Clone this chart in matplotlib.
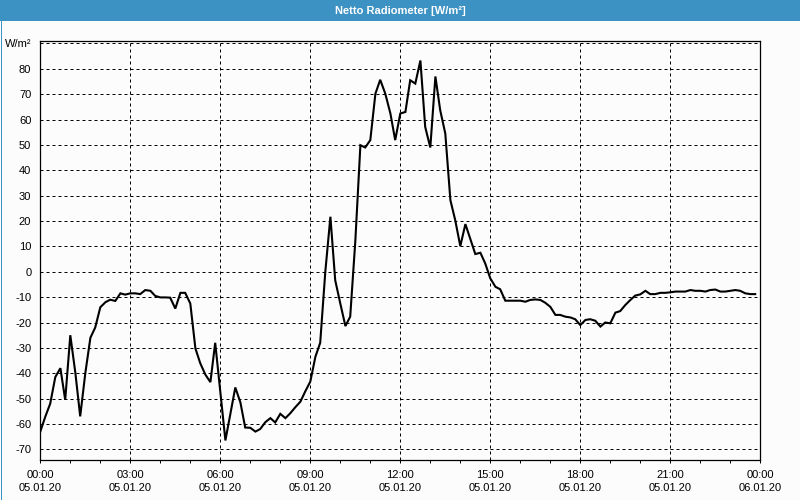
import matplotlib
matplotlib.use("Agg")
import matplotlib.pyplot as plt
from matplotlib.patches import Rectangle
from matplotlib.ticker import FixedLocator, MultipleLocator

# ---- data (time in hours since 05.01.20 00:00, value in W/m²) ----
hours = [0.00, 0.17, 0.33, 0.50, 0.67, 0.83, 1.00, 1.17, 1.33, 1.50, 1.67, 1.83,
         2.00, 2.17, 2.33, 2.50, 2.67, 2.83, 3.00, 3.17, 3.33, 3.50, 3.67, 3.83,
         4.00, 4.17, 4.33, 4.50, 4.67, 4.83, 5.00, 5.17, 5.33, 5.50, 5.67, 5.83,
         6.17, 6.50, 6.67, 6.83, 7.00, 7.17, 7.33, 7.50, 7.67, 7.83,
         8.00, 8.17, 8.33, 8.50, 8.67, 8.83, 9.00, 9.17, 9.33, 9.50, 9.67, 9.83,
         10.00, 10.17, 10.33, 10.50, 10.67, 10.83, 11.00, 11.17, 11.33, 11.50, 11.67, 11.83,
         12.00, 12.17, 12.33, 12.50, 12.67, 12.83, 13.00, 13.17, 13.33, 13.50, 13.67, 13.83,
         14.00, 14.17, 14.33, 14.50, 14.67, 14.83, 15.00, 15.17, 15.33, 15.50, 15.67, 15.83,
         16.00, 16.17, 16.33, 16.50, 16.67, 16.83, 17.00, 17.17, 17.33, 17.50, 17.67, 17.83,
         18.00, 18.17, 18.33, 18.50, 18.67, 18.83, 19.00, 19.17, 19.33, 19.50, 19.67, 19.83,
         20.00, 20.17, 20.33, 20.50, 20.67, 20.83, 21.00, 21.17, 21.33, 21.50, 21.67, 21.83,
         22.00, 22.17, 22.33, 22.50, 22.67, 22.83, 23.00, 23.17, 23.33, 23.50, 23.67, 23.83]
values = [-63, -57, -52, -41.5, -38, -50.5, -25, -40, -57, -40, -26, -22,
          -14, -12, -11, -11.5, -8.5, -9, -8.5, -8.5, -8.8, -7.2, -7.5, -9.5,
          -10.1, -10.1, -10.2, -14.5, -8.3, -8.3, -12.5, -30.2, -36, -40.5, -43.5, -28,
          -66.5, -45.6, -51.5, -61.4, -61.5, -63, -62, -59.3, -57.7, -59.4,
          -56, -57.7, -55.8, -53.4, -51.2, -47.2, -43.3, -33.5, -28, 0, 21.7, -3.3,
          -12.5, -21.4, -17.7, 12, 49.9, 49, 51.9, 70.2, 75.7, 70.2, 62.4, 51.9,
          62.4, 63, 75.5, 74.2, 83.3, 57.1, 49, 77, 63.7, 54.5, 28.2, 20.4,
          10.1, 18.8, 13.1, 7, 7.5, 3.3, -2.6, -5.9, -6.9, -11.4, -11.4, -11.4,
          -11.4, -11.8, -11.1, -10.9, -11.1, -12.2, -13.8, -17, -17, -17.7, -18, -18.7,
          -21, -19, -18.7, -19.3, -21.6, -20, -20.3, -16.1, -15.5, -13.1, -11.1, -9.4,
          -8.9, -7.5, -8.8, -8.8, -8.3, -8.3, -8.1, -7.8, -7.8, -7.8, -7.2, -7.5,
          -7.5, -7.8, -7.2, -7.0, -7.8, -7.8, -7.5, -7.2, -7.5, -8.5, -8.8, -8.8]

x_tick_hours = [0, 3, 6, 9, 12, 15, 18, 21, 24]
x_tick_labels = ["00:00\n05.01.20", "03:00\n05.01.20", "06:00\n05.01.20",
                 "09:00\n05.01.20", "12:00\n05.01.20", "15:00\n05.01.20",
                 "18:00\n05.01.20", "21:00\n05.01.20", "00:00\n06.01.20"]
y_ticks = [-70, -60, -50, -40, -30, -20, -10, 0, 10, 20, 30, 40, 50, 60, 70, 80, 90]
y_tick_labels = ["-70", "-60", "-50", "-40", "-30", "-20", "-10", "0", "10", "20",
                 "30", "40", "50", "60", "70", "80", "W/m²"]
title = "Netto Radiometer [W/m²]"

# ---- figure ----
W, H = 800, 500
BLUE = "#3D92C4"
plt.rcParams["font.family"] = ["Liberation Sans", "DejaVu Sans"]
fig = plt.figure(figsize=(8, 5), dpi=100, facecolor="#FBFCFB")

# title bar and outer border
fig.patches.append(Rectangle((0, 1 - 20.5 / H), 1, 20.5 / H, transform=fig.transFigure,
                             facecolor=BLUE, edgecolor="none", zorder=0))
fig.patches.append(Rectangle((0.5 / W, 0.5 / H), 1 - 1 / W, 1 - 1 / H, transform=fig.transFigure,
                             facecolor="none", edgecolor=BLUE, lw=0.72, zorder=5))
fig.text(0.5, 1 - 10.5 / H, title, color="white", fontsize=8, fontweight="bold",
         ha="center", va="center")

left, right, top, bottom = 40.3, 760.3, 40.7, 460.0
ax = fig.add_axes([left / W, 1 - bottom / H, (right - left) / W, (bottom - top) / H])
ax.set_facecolor("#FBFCFB")

ax.plot(hours, values, color="black", lw=1.5, solid_joinstyle="miter", zorder=3)

ax.set_xlim(0, 24)
ax.set_ylim(-74.2, 91.1)

ax.xaxis.set_major_locator(FixedLocator(x_tick_hours))
ax.set_xticklabels(x_tick_labels, fontsize=8, linespacing=1.3)
ax.xaxis.set_minor_locator(MultipleLocator(1))
ax.tick_params(axis="x", which="both", direction="out", length=2.4, width=0.72,
               pad=5, colors="black")

ax.set_yticks(y_ticks)
ax.set_yticklabels(y_tick_labels, fontsize=8)
ax.tick_params(axis="y", which="both", length=0, pad=6.5)

ax.grid(True, which="major", color="black", linestyle=(0, (3, 3)), lw=0.72)

for s in ax.spines.values():
    s.set_color("black")
    s.set_linewidth(0.9)

fig.savefig("out.png", dpi=100, facecolor=fig.get_facecolor())
